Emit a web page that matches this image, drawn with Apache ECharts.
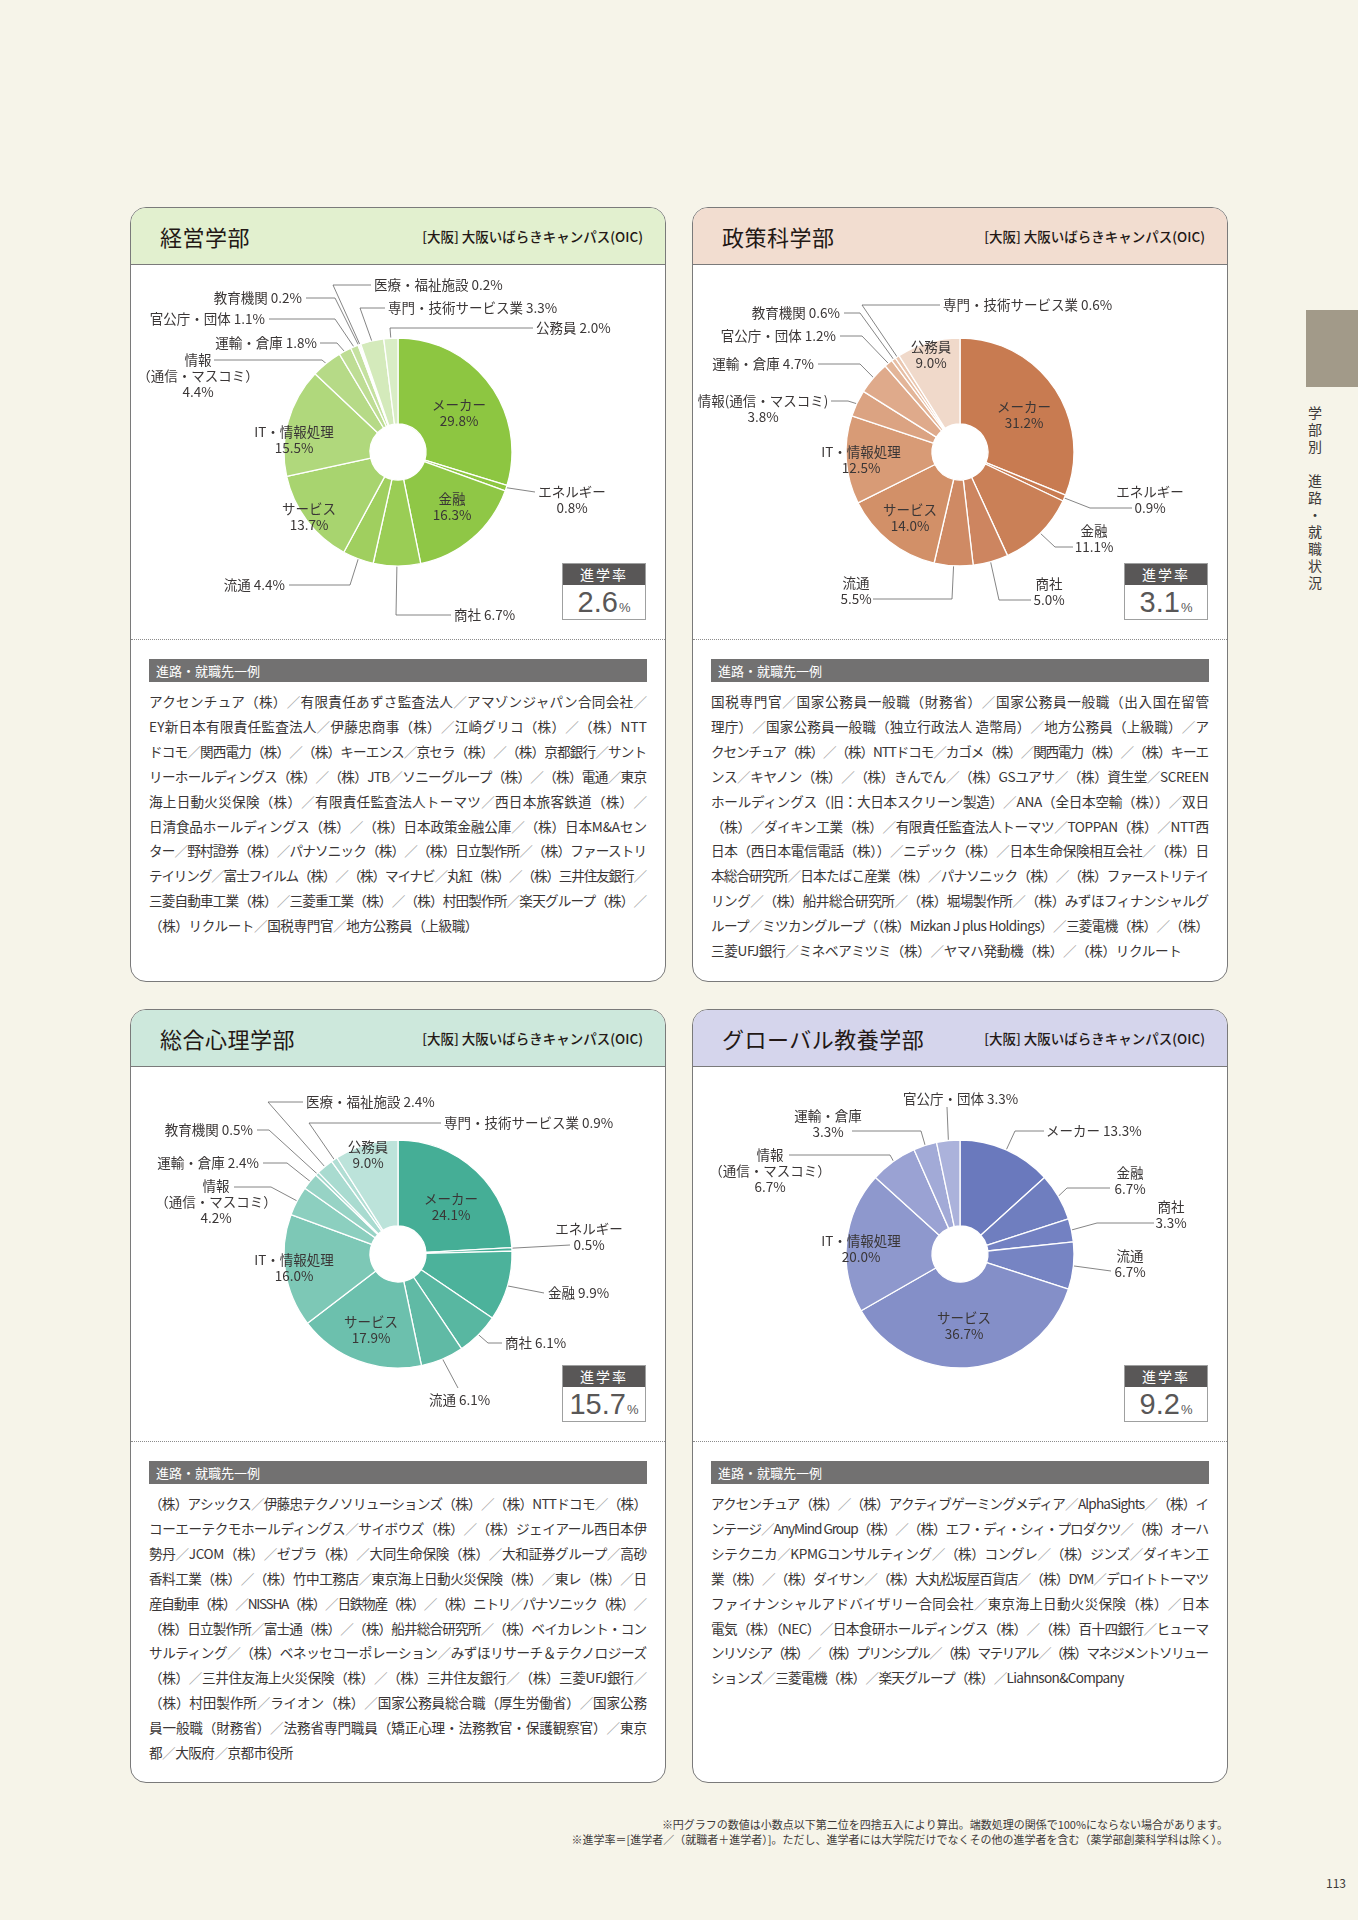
<!DOCTYPE html>
<html>
<head>
<meta charset="utf-8">
<script src="https://cdn.jsdelivr.net/npm/echarts@6/dist/echarts.min.js"></script>
<style>
html,body{margin:0;padding:0;}
body{width:1358px;height:1920px;background:#f6f4e9;position:relative;overflow:hidden;
  font-family:"Noto Sans CJK JP","Noto Sans",sans-serif;color:#3e3a39;}
.panel{position:absolute;width:534px;border:1px solid #7a7a7a;border-radius:16px;background:#fff;overflow:hidden;}
.hd{position:absolute;left:0;top:0;right:0;height:56px;border-bottom:1px solid #7a7a7a;}
.ttl{position:absolute;left:29px;top:13px;font-size:22px;line-height:30px;color:#231815;letter-spacing:0.5px;}
.sub{position:absolute;right:22px;top:19px;font-size:13.5px;line-height:18px;color:#231815;font-weight:500;}
.chart{position:absolute;left:0;top:57px;width:534px;height:374px;}
.dots{position:absolute;left:0;right:0;top:431px;border-top:1px dotted #8c8c8c;}
.bar{position:absolute;left:18px;top:451px;width:498px;height:23px;background:#727171;color:#fff;
  font-size:13px;line-height:23px;padding-left:7px;box-sizing:border-box;}
.txt{position:absolute;left:18px;top:481px;width:498px;font-size:13.6px;line-height:24.9px;color:#3a3636;}
.txt div{white-space:nowrap;}
.sl{color:#a5a5a5;}
.rate{position:absolute;left:431px;top:355px;width:82px;height:55px;border:1px solid #9fa0a0;background:#fff;}
.rh{height:21px;background:#595757;color:#fff;font-size:14px;line-height:21px;text-align:center;letter-spacing:2px;}
.rv{text-align:center;font-size:29px;line-height:34px;color:#595757;font-weight:500;font-family:"Liberation Sans","Noto Sans",sans-serif;}
.rv span{font-size:13px;margin-left:1px;}
.tab{position:absolute;left:1306px;top:310px;width:52px;height:77px;background:#a29a89;}
.side{position:absolute;left:1306px;top:406px;width:18px;line-height:18px;writing-mode:vertical-rl;font-size:14px;letter-spacing:3px;color:#3e3a39;}
.note{position:absolute;right:130px;font-size:11px;line-height:14px;color:#3e3a39;text-align:right;white-space:nowrap;}
.pg{position:absolute;left:1326px;top:1874px;font-size:12px;color:#3e3a39;}
</style>
</head>
<body>
<div class="tab"></div>
<div class="side">学部別　進路・就職状況</div>
<div id="panels"></div>
<div class="note" style="top:1817px">※円グラフの数値は小数点以下第二位を四捨五入により算出。端数処理の関係で100%にならない場合があります。</div>
<div class="note" style="top:1832px">※進学率＝[進学者／（就職者＋進学者）]。ただし、進学者には大学院だけでなくその他の進学者を含む（薬学部創薬科学科は除く）。</div>
<div class="pg">113</div>
<script>
// ---- data ----
var keieiNames = ['メーカー','エネルギー','金融','商社','流通','サービス','IT・情報処理','情報（通信・マスコミ）','運輸・倉庫','官公庁・団体','教育機関','医療・福祉施設','専門・技術サービス業','公務員'];
var keieiValues = [29.8,0.8,16.3,6.7,4.4,13.7,15.5,4.4,1.8,1.1,0.2,0.2,3.3,2.0];

var seisakuNames = ['メーカー','エネルギー','金融','商社','流通','サービス','IT・情報処理','情報（通信・マスコミ）','運輸・倉庫','官公庁・団体','教育機関','専門・技術サービス業','公務員'];
var seisakuValues = [31.2,0.9,11.1,5.0,5.5,14.0,12.5,3.8,4.7,1.2,0.6,0.6,9.0];

var shinriNames = ['メーカー','エネルギー','金融','商社','流通','サービス','IT・情報処理','情報（通信・マスコミ）','運輸・倉庫','教育機関','医療・福祉施設','専門・技術サービス業','公務員'];
var shinriValues = [24.1,0.5,9.9,6.1,6.1,17.9,16.0,4.2,2.4,0.5,2.4,0.9,9.0];

var globalNames = ['メーカー','金融','商社','流通','サービス','IT・情報処理','情報（通信・マスコミ）','運輸・倉庫','官公庁・団体'];
var globalValues = [13.3,6.7,3.3,6.7,36.7,20.0,6.7,3.3,3.3];

var facultyNames = ['経営学部','政策科学部','総合心理学部','グローバル教養学部'];
var campusName = '[大阪] 大阪いばらきキャンパス(OIC)';
var shingakuRates = ['2.6','3.1','15.7','9.2'];

var careers1 = [
'アクセンチュア（株）／有限責任あずさ監査法人／アマゾンジャパン合同会社／',
'EY新日本有限責任監査法人／伊藤忠商事（株）／江崎グリコ（株）／（株）NTT',
'ドコモ／関西電力（株）／（株）キーエンス／京セラ（株）／（株）京都銀行／サント',
'リーホールディングス（株）／（株）JTB／ソニーグループ（株）／（株）電通／東京',
'海上日動火災保険（株）／有限責任監査法人トーマツ／西日本旅客鉄道（株）／',
'日清食品ホールディングス（株）／（株）日本政策金融公庫／（株）日本M&Aセン',
'ター／野村證券（株）／パナソニック（株）／（株）日立製作所／（株）ファーストリ',
'テイリング／富士フイルム（株）／（株）マイナビ／丸紅（株）／（株）三井住友銀行／',
'三菱自動車工業（株）／三菱重工業（株）／（株）村田製作所／楽天グループ（株）／',
'（株）リクルート／国税専門官／地方公務員（上級職）'
];
var careers2 = [
'国税専門官／国家公務員一般職（財務省）／国家公務員一般職（出入国在留管',
'理庁）／国家公務員一般職（独立行政法人 造幣局）／地方公務員（上級職）／ア',
'クセンチュア（株）／（株）NTTドコモ／カゴメ（株）／関西電力（株）／（株）キーエ',
'ンス／キヤノン（株）／（株）きんでん／（株）GSユアサ／（株）資生堂／SCREEN',
'ホールディングス（旧：大日本スクリーン製造）／ANA（全日本空輸（株））／双日',
'（株）／ダイキン工業（株）／有限責任監査法人トーマツ／TOPPAN（株）／NTT西',
'日本（西日本電信電話（株））／ニデック（株）／日本生命保険相互会社／（株）日',
'本総合研究所／日本たばこ産業（株）／パナソニック（株）／（株）ファーストリテイ',
'リング／（株）船井総合研究所／（株）堀場製作所／（株）みずほフィナンシャルグ',
'ループ／ミツカングループ（（株）Mizkan J plus Holdings）／三菱電機（株）／（株）',
'三菱UFJ銀行／ミネベアミツミ（株）／ヤマハ発動機（株）／（株）リクルート'
];
var careers3 = [
'（株）アシックス／伊藤忠テクノソリューションズ（株）／（株）NTTドコモ／（株）',
'コーエーテクモホールディングス／サイボウズ（株）／（株）ジェイアール西日本伊',
'勢丹／JCOM（株）／ゼブラ（株）／大同生命保険（株）／大和証券グループ／高砂',
'香料工業（株）／（株）竹中工務店／東京海上日動火災保険（株）／東レ（株）／日',
'産自動車（株）／NISSHA（株）／日鉄物産（株）／（株）ニトリ／パナソニック（株）／',
'（株）日立製作所／富士通（株）／（株）船井総合研究所／（株）ベイカレント・コン',
'サルティング／（株）ベネッセコーポレーション／みずほリサーチ＆テクノロジーズ',
'（株）／三井住友海上火災保険（株）／（株）三井住友銀行／（株）三菱UFJ銀行／',
'（株）村田製作所／ライオン（株）／国家公務員総合職（厚生労働省）／国家公務',
'員一般職（財務省）／法務省専門職員（矯正心理・法務教官・保護観察官）／東京',
'都／大阪府／京都市役所'
];
var careers4 = [
'アクセンチュア（株）／（株）アクティブゲーミングメディア／AlphaSights／（株）イ',
'ンテージ／AnyMind Group（株）／（株）エフ・ディ・シィ・プロダクツ／（株）オーハ',
'シテクニカ／KPMGコンサルティング／（株）コングレ／（株）ジンズ／ダイキン工',
'業（株）／（株）ダイサン／（株）大丸松坂屋百貨店／（株）DYM／デロイトトーマツ',
'ファイナンシャルアドバイザリー合同会社／東京海上日動火災保険（株）／日本',
'電気（株）（NEC）／日本食研ホールディングス（株）／（株）百十四銀行／ヒューマ',
'ンリソシア（株）／（株）プリンシプル／（株）マテリアル／（株）マネジメントソリュー',
'ションズ／三菱電機（株）／楽天グループ（株）／Liahnson&Company'
];

// ---- styles / label placement (px offsets from pie centre) ----
var keieiColors = ['#8dc641','#8dc641','#8fc746','#9acd55','#a0cf5f','#a8d46f','#b0d87c','#b6da87','#bedd94','#c5e1a0','#cbe4aa','#d0e7b4','#d4eabb','#d9edc5'];
var seisakuColors = ['#c87b51','#c87b51','#ca8057','#cd8560','#cf8a64','#d29068','#d89b76','#dba382','#dfaa8b','#e3b598','#e7bea4','#eac6af','#f0d9ca'];
var shinriColors = ['#45ae96','#45ae96','#4cb29b','#58b7a1','#60baa5','#6cc0ad','#7dc8b6','#8ccfbf','#97d3c5','#a1d7cb','#a9dbd0','#b1ded4','#bce3da'];
var globalColors = ['#6a79bd','#6f7ebf','#7381c2','#7684c3','#848fc8','#8e98cd','#9aa2d3','#a2aad7','#abb2db'];
var headColors = ['#e2f0cf','#f2ddd0','#cde8dc','#d5d5ec'];

var keieiLabelPos = {
  'メーカー': {inside:1, x:61, y:-39, s:1},
  'エネルギー': {x:174, y:48, s:1, e:[137,40]},
  '金融': {inside:1, x:54, y:55, s:1},
  '商社': {x:56, y:163, a:'left', e:[53,163], b:[-2,163]},
  '流通': {x:-113, y:133, a:'right', e:[-109,133], b:[-48,133]},
  'サービス': {inside:1, x:-89, y:65, s:1},
  'IT・情報処理': {inside:1, x:-104, y:-12, s:1},
  '情報（通信・マスコミ）': {x:-200, y:-76, s:1, br:2, e:[-184,-92], b:[-76,-92]},
  '運輸・倉庫': {x:-81, y:-109, a:'right', e:[-78,-109], b:[-61,-109]},
  '官公庁・団体': {x:-133, y:-133, a:'right', e:[-129,-133], b:[-63,-133]},
  '教育機関': {x:-96, y:-154, a:'right', e:[-92,-154], b:[-63,-154]},
  '医療・福祉施設': {x:-24, y:-167, a:'left', e:[-27,-167], b:[-65,-167]},
  '専門・技術サービス業': {x:-10, y:-144, a:'left', e:[-13,-144], b:[-38,-144]},
  '公務員': {x:138, y:-124, a:'left', e:[135,-124], b:[-8,-124]}
};
var seisakuLabelPos = {
  'メーカー': {inside:1, x:64, y:-37, s:1},
  'エネルギー': {x:190, y:48, s:1, e:[172,56], b:[130,56]},
  '金融': {x:134, y:87, s:1, e:[113,95], b:[95,95]},
  '商社': {x:89, y:140, s:1, e:[71,148], b:[39,148]},
  '流通': {x:-104, y:139, s:1, e:[-87,147], b:[-8,147]},
  'サービス': {inside:1, x:-50, y:66, s:1},
  'IT・情報処理': {inside:1, x:-99, y:8, s:1},
  '情報（通信・マスコミ）': {x:-197, y:-43, s:1, hp:1, e:[-129,-51], b:[-112,-51]},
  '運輸・倉庫': {x:-146, y:-88, a:'right', e:[-142,-88], b:[-100,-88]},
  '官公庁・団体': {x:-124, y:-116, a:'right', e:[-120,-116], b:[-98,-116]},
  '教育機関': {x:-120, y:-139, a:'right', e:[-116,-139], b:[-100,-139]},
  '専門・技術サービス業': {x:-17, y:-147, a:'left', e:[-20,-147], b:[-98,-147]},
  '公務員': {inside:1, x:-29, y:-97, s:1}
};
var shinriLabelPos = {
  'メーカー': {inside:1, x:53, y:-47, s:1},
  'エネルギー': {x:191, y:-17, s:1, e:[172,-9], r:30},
  '金融': {x:150, y:39, a:'left', e:[146,39]},
  '商社': {x:107, y:89, a:'left', e:[104,89], b:[90,89]},
  '流通': {x:31, y:146, a:'left', e:[60,134]},
  'サービス': {inside:1, x:-27, y:76, s:1},
  'IT・情報処理': {inside:1, x:-104, y:14, s:1},
  '情報（通信・マスコミ）': {x:-182, y:-52, s:1, br:2, e:[-164,-67], b:[-127,-67]},
  '運輸・倉庫': {x:-139, y:-91, a:'right', e:[-135,-91], b:[-111,-91]},
  '教育機関': {x:-145, y:-124, a:'right', e:[-141,-124], b:[-129,-124]},
  '医療・福祉施設': {x:-92, y:-152, a:'left', e:[-95,-152], b:[-130,-152]},
  '専門・技術サービス業': {x:46, y:-131, a:'left', e:[43,-131], b:[-89,-131]},
  '公務員': {inside:1, x:-30, y:-99, s:1}
};
var globalLabelPos = {
  'メーカー': {x:86, y:-123, a:'left', e:[84,-123], b:[55,-123]},
  '金融': {x:170, y:-73, s:1, e:[150,-66], b:[107,-66]},
  '商社': {x:211, y:-39, s:1, e:[194,-31], b:[137,-31]},
  '流通': {x:170, y:10, s:1, e:[151,17]},
  'サービス': {inside:1, x:4, y:72, s:1},
  'IT・情報処理': {inside:1, x:-99, y:-5, s:1},
  '情報（通信・マスコミ）': {x:-190, y:-83, s:1, br:2, e:[-171,-99], b:[-70,-99]},
  '運輸・倉庫': {x:-132, y:-130, s:1, e:[-108,-123], b:[-39,-123]},
  '官公庁・団体': {x:-57, y:-155, a:'left', e:[-13,-147]}
};

var panelDefs = [
  {left:130, top:207, h:773, names:keieiNames, values:keieiValues, colors:keieiColors, pos:keieiLabelPos, careers:careers1},
  {left:692, top:207, h:773, names:seisakuNames, values:seisakuValues, colors:seisakuColors, pos:seisakuLabelPos, careers:careers2},
  {left:130, top:1009, h:772, names:shinriNames, values:shinriValues, colors:shinriColors, pos:shinriLabelPos, careers:careers3},
  {left:692, top:1009, h:772, names:globalNames, values:globalValues, colors:globalColors, pos:globalLabelPos, careers:careers4}
];

var C = [267, 187];
var FONT = '"Noto Sans CJK JP", "Noto Sans", sans-serif';

function buildPanel(def, i) {
  var p = document.createElement('div');
  p.className = 'panel';
  p.style.left = def.left + 'px';
  p.style.top = def.top + 'px';
  p.style.height = def.h + 'px';
  p.innerHTML =
    '<div class="hd" style="background:' + headColors[i] + '">' +
      '<div class="ttl">' + facultyNames[i] + '</div>' +
      '<div class="sub">' + campusName + '</div>' +
    '</div>' +
    '<div class="chart"></div>' +
    '<div class="rate"><div class="rh">進学率</div><div class="rv">' + shingakuRates[i] + '<span>%</span></div></div>' +
    '<div class="dots"></div>' +
    '<div class="bar">進路・就職先一例</div>' +
    '<div class="txt"></div>';
  document.getElementById('panels').appendChild(p);
  fillCareers(p.querySelector('.txt'), def.careers);
  drawPie(p.querySelector('.chart'), def);
}

function fillCareers(el, lines) {
  lines.forEach(function (line) {
    var d = document.createElement('div');
    d.innerHTML = '<span>' + line.replace(/&/g, '&amp;').replace(/／/g, '<span class="sl">／</span>') + '</span>';
    el.appendChild(d);
  });
  var W = el.clientWidth, sum = 0, cnt = 0;
  var rows = el.children;
  for (var k = 0; k < rows.length - 1; k++) {
    var w = rows[k].firstChild.getBoundingClientRect().width;
    var n = Array.from(lines[k]).length;
    var ls = (W - w) / (n - 1);
    rows[k].style.letterSpacing = ls + 'px';
    sum += ls; cnt++;
  }
  rows[rows.length - 1].style.letterSpacing = (cnt ? sum / cnt : 0) + 'px';
}

function drawPie(dom, def) {
  var chart = echarts.init(dom);
  var data = def.names.map(function (n, k) {
    var lay = def.pos[n];
    return {
      name: n,
      value: def.values[k],
      itemStyle: {color: def.colors[k]},
      label: {position: lay.inside ? 'inside' : 'outside'},
      labelLine: {show: !lay.inside}
    };
  });
  chart.setOption({
    animation: false,
    series: [{
      type: 'pie',
      silent: true,
      radius: [28, 114],
      center: C,
      startAngle: 90,
      clockwise: true,
      avoidLabelOverlap: false,
      itemStyle: {borderColor: '#fff', borderWidth: 1.3},
      label: {
        show: true,
        color: '#3a3636',
        fontSize: 13.5,
        lineHeight: 16,
        fontFamily: FONT,
        formatter: function (params) {
          var lay = def.pos[params.name];
          var nm = params.name;
          if (lay.hp) nm = nm.replace('（', '(').replace('）', ')');
          if (lay.br) nm = nm.slice(0, lay.br) + '\n' + nm.slice(lay.br);
          return nm + (lay.s ? '\n' : ' ') + params.value.toFixed(1) + '%';
        }
      },
      labelLine: {show: true, length: 10, length2: 10, lineStyle: {color: '#666', width: 0.8}},
      labelLayout: function (params) {
        var lay = def.pos[def.names[params.dataIndex]];
        var out = {x: C[0] + lay.x, y: C[1] + lay.y, align: lay.a || 'center', verticalAlign: 'middle'};
        var pts = params.labelLinePoints;
        if (!lay.inside && pts && pts.length) {
          var s = pts[0];
          var dx = s[0] - C[0], dy = s[1] - C[1];
          var d = Math.sqrt(dx * dx + dy * dy) || 1;
          var rr = lay.r || d - 3;
          var line = [[C[0] + dx / d * rr, C[1] + dy / d * rr]];
          if (lay.b) line.push([C[0] + lay.b[0], C[1] + lay.b[1]]);
          line.push([C[0] + lay.e[0], C[1] + lay.e[1]]);
          out.labelLinePoints = line;
        }
        return out;
      },
      data: data
    }]
  });
}

panelDefs.forEach(buildPanel);
</script>
</body>
</html>
